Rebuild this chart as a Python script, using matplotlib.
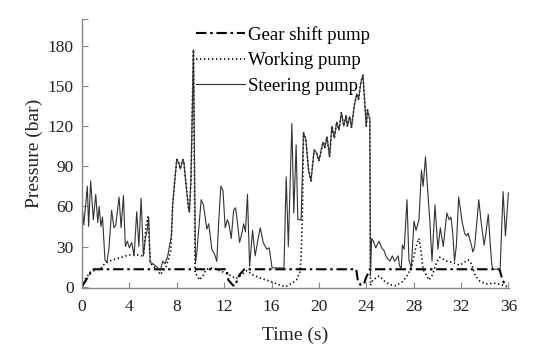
import matplotlib
matplotlib.use("Agg")
import matplotlib.pyplot as plt

plt.rcParams['font.family'] = ['Liberation Serif', 'DejaVu Serif']

# ---- data ----
steer_t = [0.0, 0.15, 0.45, 0.56, 0.73, 0.96, 1.16, 1.33, 1.45, 1.6, 1.73, 1.94, 2.1, 2.28, 2.5, 2.7,
           2.85, 3.13, 3.3, 3.5, 3.66, 3.83, 4.0, 4.2, 4.4, 4.62, 4.8, 4.99, 5.18, 5.35, 5.5, 5.63,
           5.75, 6.0, 6.3, 6.6, 6.82, 7.0, 7.24, 7.4, 7.55, 7.66, 7.86, 8.0, 8.15, 8.3, 8.5, 8.6,
           8.8, 9.0, 9.07, 9.2, 9.41, 9.58, 9.69, 10.06, 10.25, 10.4, 10.54, 10.7, 10.96, 11.2,
           11.38, 11.55, 11.72, 11.9, 12.09, 12.27, 12.4, 12.6, 12.8, 12.96, 13.1, 13.3, 13.5,
           13.65, 13.8, 13.97, 14.15, 14.4, 14.62, 14.85, 15.05, 15.3, 15.6, 15.8, 15.95, 16.05,
           17.05, 17.24, 17.42, 17.72, 17.88, 18.08, 18.22, 18.5, 18.7, 18.9, 19.13, 19.33, 19.6,
           19.8, 20.0, 20.35, 20.5, 20.68, 20.9, 21.1, 21.3, 21.5, 21.7, 21.9, 22.1, 22.3, 22.4,
           22.6, 22.75, 23.0, 23.2, 23.35, 23.55, 23.72, 23.9, 24.0, 24.1, 24.3, 24.35, 24.45,
           24.6, 24.8, 25.07, 25.3, 25.5, 25.7, 26.0, 26.2, 26.4, 26.7, 26.8, 26.95, 27.05, 27.2,
           27.44, 27.6, 27.8, 28.03, 28.2, 28.45, 28.66, 28.8, 29.0, 29.2, 29.36, 29.55, 29.8,
           30.05, 30.25, 30.5, 30.8, 31.0, 31.15, 31.3, 31.45, 31.6, 31.8, 31.95, 32.1, 32.3,
           32.45, 32.6, 32.75, 32.9, 33.0, 33.15, 33.5, 33.7, 33.95, 34.1, 34.3, 34.45, 34.6,
           34.7, 35.3, 35.55, 35.75, 36.0]
steer_p = [62, 46, 75, 45, 79, 50, 69, 48, 60, 45, 52, 20, 18, 29, 57, 44,
           46, 67, 44, 68, 30, 34, 29, 33, 23, 56, 30, 66, 23, 36, 42, 52,
           18, 17, 15, 12, 19, 17, 23, 31, 38, 62, 82, 95, 93, 88, 95, 93,
           75, 58, 56, 80, 177, 18, 25, 65, 61, 52, 43, 47, 28, 24,
           19, 50, 75, 72, 44, 50, 47, 36, 57, 59, 50, 33, 40,
           47, 41, 69, 15, 42, 23, 35, 44, 33, 28, 29, 20, 14,
           14, 82, 30, 122, 55, 106, 50, 50, 115, 110, 87, 79, 102,
           100, 94, 108, 104, 112, 97, 120, 111, 123, 117, 130, 120, 128, 120,
           127, 119, 136, 144, 140, 153, 158, 134, 120, 132, 125, 8, 36,
           34, 29, 34, 29, 27, 22, 19, 23, 19, 23, 16, 13, 31, 28,
           65, 20, 14, 49, 42, 50, 87, 75, 97, 70, 50, 19, 61,
           28, 44, 30, 55, 50, 52, 40, 19, 30, 67, 58, 48, 40,
           38, 40, 35, 30, 26, 30, 65, 48, 31, 40, 54, 34, 16,
           13, 13, 71, 38, 70]

work_t = [0.0, 0.3, 0.73, 1.2, 1.6, 1.9, 2.3, 2.56, 3.0, 3.7, 4.2, 4.53, 5.0, 5.2, 5.4, 5.58,
          5.7, 5.78, 6.0, 6.3, 6.6, 6.8, 7.1, 7.35, 7.5, 7.66, 7.86, 8.0, 8.15, 8.3, 8.5, 8.6,
          8.8, 9.0, 9.07, 9.2, 9.41, 9.55, 9.75, 9.9, 10.2, 10.5, 11.0, 11.6, 12.2, 12.6, 13.0,
          13.5, 13.9, 14.4, 15.0, 15.9, 16.6, 17.2, 17.8, 18.1, 18.4, 18.5, 18.62, 18.7, 18.9,
          19.13, 19.33, 19.6, 19.8, 20.0, 20.35, 20.5, 20.68, 20.9, 21.1, 21.3, 21.5, 21.7, 21.9,
          22.1, 22.3, 22.4, 22.6, 22.75, 23.0, 23.2, 23.35, 23.55, 23.72, 23.9, 24.0, 24.1, 24.3,
          24.35, 24.55, 25.1, 25.55, 26.0, 26.5, 27.1, 27.5, 27.8, 28.0, 28.2, 28.45, 28.6, 28.8,
          29.1, 29.3, 29.6, 29.93, 30.2, 30.8, 31.3, 31.9, 32.6, 32.9, 33.2, 33.6, 34.1, 34.9,
          35.4, 35.9]
work_p = [0, 6, 11, 12.5, 14, 17, 19, 20, 21, 23, 24, 24, 23, 24, 45, 52,
          30, 18, 15, 14, 9, 11, 15, 22, 27, 62, 82, 95, 93, 88, 95, 93,
          75, 58, 56, 80, 177, 10, 8, 5, 8, 13, 14, 12, 10, 8, 6,
          9, 12, 9, 6.5, 4, 1.5, 0, 3, 5, 11, 22, 60, 115, 110,
          87, 79, 102, 100, 94, 108, 104, 112, 97, 120, 111, 123, 117, 130,
          120, 128, 120, 127, 119, 136, 144, 140, 153, 158, 134, 120, 132, 125,
          1, 5, 8, 4, 1.5, 0.7, 4, 9, 14, 22, 30, 36, 28, 13,
          8, 5, 9, 18, 22, 19, 18, 16, 20, 17, 8, 4, 2, 2.5,
          1.5, 0]

gear_t = [0.0, 0.9, 12.2, 12.35, 12.75, 12.9, 13.3, 13.7, 23.15, 23.3, 23.5, 23.8, 23.95, 24.3,
          35.25, 35.5, 35.8]
gear_p = [0, 13, 13, 5, 1, 0.5, 9, 13, 13, 4, 1.5, 1.5, 6, 13,
          13, 5, 0.5]

x_ticks = [0, 4, 8, 12, 16, 20, 24, 28, 32, 36]
y_ticks = [0, 30, 60, 90, 120, 150, 180]
labels = ['Gear shift pump', 'Working pump', 'Steering pump']

# ---- figure ----
fig = plt.figure(figsize=(5.5, 3.54), dpi=100)
ax = fig.add_axes([82 / 550, 1 - 288 / 354, (509 - 82) / 550, (288 - 19) / 354])

l1, = ax.plot(gear_t, gear_p, color='black', lw=1.5, dashes=(5, 1.8, 1.2, 1.8))
l2, = ax.plot(work_t, work_p, color='black', lw=1.2, dashes=(0.8, 1.6))
l3, = ax.plot(steer_t, steer_p, color='#333333', lw=0.8)

ax.set_xlim(0, 36.05)
ax.set_ylim(-1, 200)
ax.set_xticks(x_ticks)
ax.set_yticks(y_ticks)
ax.set_yticks([200], minor=True)
ax.tick_params(which='both', direction='in', length=4, width=0.8, color='#888888',
               labelsize=12.5, labelcolor='#222222')
ax.tick_params(axis='x', pad=8)
ax.tick_params(axis='y', pad=6)
for s in ['top', 'right']:
    ax.spines[s].set_visible(False)
for s in ['left', 'bottom']:
    ax.spines[s].set_color('#888888')
    ax.spines[s].set_linewidth(1.0)

ax.set_xlabel('Time (s)', fontsize=14, color='#222222', labelpad=8)
ax.set_ylabel('Pressure (bar)', fontsize=14, color='#222222', labelpad=3)

fig.legend([l1, l2, l3], labels, loc='upper left', bbox_to_anchor=(196 / 550, 1 - 26 / 354),
           frameon=False, fontsize=13.5, handlelength=2.6, handletextpad=0.2,
           labelspacing=0.45, borderpad=0, borderaxespad=0)

fig.savefig('out.png', dpi=100)
